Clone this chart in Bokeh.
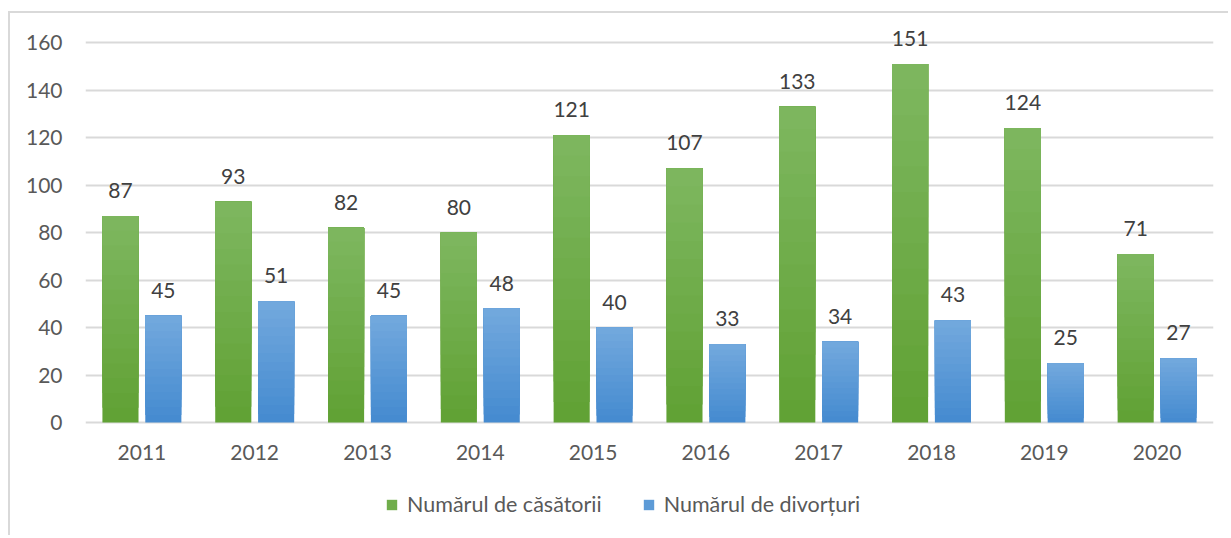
from bokeh.plotting import figure
from bokeh.models import (ColumnDataSource, FactorRange, Range1d, Legend, LegendItem,
                          FixedTicker, LabelSet)
from bokeh.core.properties import value
from bokeh.transform import dodge
from bokeh.embed import file_html
from bokeh.resources import INLINE

years = ["2011", "2012", "2013", "2014", "2015", "2016", "2017", "2018", "2019", "2020"]
casatorii = [87, 93, 82, 80, 121, 107, 133, 151, 124, 71]
divorturi = [45, 51, 45, 48, 40, 33, 34, 43, 25, 27]
y_ticks = [0, 20, 40, 60, 80, 100, 120, 140, 160]
series_names = ["Numărul de căsătorii", "Numărul de divorțuri"]

FONT = "Lato"
FS = "21px"
TXT = "#595959"
GREEN_TOP, GREEN_BOT = (0x7e, 0xb7, 0x60), (0x60, 0xa1, 0x33)
BLUE_TOP, BLUE_BOT = (0x73, 0xa9, 0xde), (0x44, 0x8a, 0xcf)
NBANDS = 14


def mix(a, b, t):
    return "#%02x%02x%02x" % tuple(int(round(a[i] + (b[i] - a[i]) * t)) for i in range(3))


data = dict(x=years, c=casatorii, d=divorturi, base=[0] * len(years),
            cl=[str(v) for v in casatorii], dl=[str(v) for v in divorturi])
for k in range(NBANDS):
    data[f"cb{k}"] = [v * k / NBANDS for v in casatorii]
    data[f"db{k}"] = [v * k / NBANDS for v in divorturi]
src = ColumnDataSource(data)

# frame extends below zero so that category labels and legend live inside it
p = figure(x_range=FactorRange(*years, range_padding=0), y_range=Range1d(-48.4, 171.8),
           width=1220, height=524, output_backend="svg", toolbar_location=None,
           min_border_left=75, min_border_right=17, min_border_top=1, min_border_bottom=0,
           styles={"border-top": "2px solid #d9d9d9", "border-left": "2px solid #d9d9d9",
                   "margin-top": "11px", "margin-left": "8px"})
p.outline_line_color = None
p.background_fill_color = "white"
p.border_fill_color = "white"

off = 0.19
w = 0.32
legend_r = {}
for key, o, top_c, bot_c in (("c", -off, GREEN_TOP, GREEN_BOT), ("d", off, BLUE_TOP, BLUE_BOT)):
    for k in range(NBANDS):
        col = mix(bot_c, top_c, (k + 0.5) / NBANDS)
        r = p.vbar(x=dodge("x", o, range=p.x_range), top=key, bottom=f"{key}b{k}", width=w,
                   source=src, fill_color=col, line_color=None)
        if k == NBANDS // 2:
            legend_r[key] = r

for col, lab, o in (("c", "cl", -off), ("d", "dl", off)):
    ls = LabelSet(x=dodge("x", o, range=p.x_range), y=col, text=lab, source=src,
                  text_align="center", text_baseline="alphabetic", y_offset=18,
                  text_font=value(FONT), text_font_size=FS, text_color="#404040")
    p.add_layout(ls)

# category labels (x axis)
xl = LabelSet(x="x", y="base", text="x", source=src, text_align="center",
              text_baseline="middle", y_offset=-30,
              text_font=value(FONT), text_font_size=FS, text_color=TXT)
p.add_layout(xl)
p.xaxis.visible = False

# y axis
p.yaxis.ticker = FixedTicker(ticks=y_ticks)
p.yaxis.axis_line_color = None
p.yaxis.major_tick_line_color = None
p.yaxis.minor_tick_line_color = None
p.yaxis.major_label_text_font = FONT
p.yaxis.major_label_text_font_size = FS
p.yaxis.major_label_text_color = TXT
p.yaxis.major_label_standoff = 17

p.xgrid.grid_line_color = None
p.ygrid.ticker = FixedTicker(ticks=y_ticks)
p.ygrid.grid_line_color = "#d9d9d9"
p.ygrid.grid_line_width = 2

legend = Legend(items=[LegendItem(label=series_names[0], renderers=[legend_r["c"]]),
                       LegendItem(label=series_names[1], renderers=[legend_r["d"]])],
                orientation="horizontal", location=(300, 20),
                label_text_font=FONT, label_text_font_size="21.5px", label_text_color=TXT,
                glyph_width=13, glyph_height=13, label_standoff=9, spacing=40,
                border_line_color=None, background_fill_alpha=0, margin=0, padding=6)
p.add_layout(legend)

open("out.html", "w").write(file_html(p, INLINE))
